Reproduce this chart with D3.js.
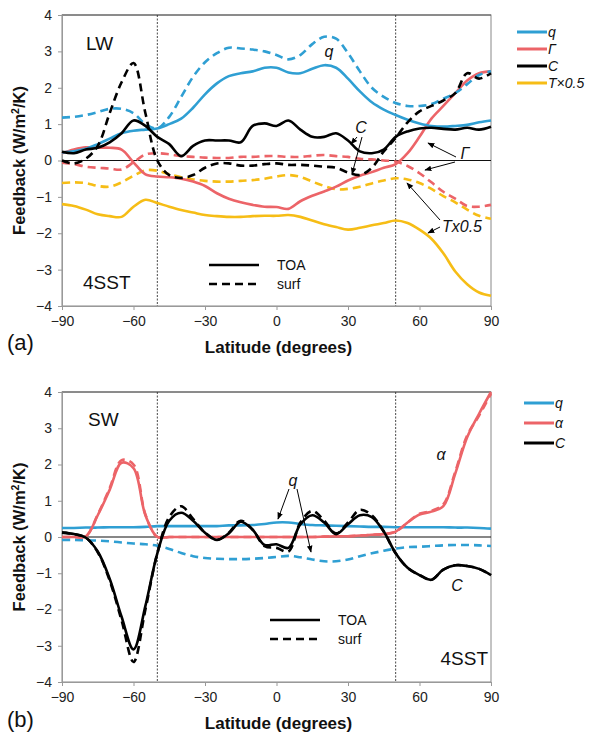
<!DOCTYPE html>
<html>
<head>
<meta charset="utf-8">
<script src="https://cdn.jsdelivr.net/npm/d3@7"></script>
<style>
  body { margin: 0; background: #fff; }
  svg { display: block; font-family: "Liberation Sans", Arial, sans-serif; }
  .tick text { font-size: 14px; fill: #222; }
  .ann { font-style: italic; font-size: 16px; fill: #111; }
</style>
</head>
<body>
<div id="chart"></div>
<script>
// latitude grid (deg), shared by both panels
const lat = [-90,-85,-80,-75,-70,-65,-60,-55,-50,-45,-40,-35,-30,-25,-20,-15,-10,-5,0,5,10,15,20,25,30,35,40,45,50,55,60,65,70,75,80,85,90];
const xTicks = [-90,-60,-30,0,30,60,90];
const yTicks = [-4,-3,-2,-1,0,1,2,3,4];

// (a) LW feedbacks, TOA (solid) and surface (dashed)
const lwQToa  = [0.22,0.25,0.32,0.45,0.6,0.75,0.82,0.85,0.88,1.0,1.15,1.45,1.82,2.12,2.32,2.4,2.45,2.55,2.55,2.42,2.4,2.52,2.62,2.55,2.25,1.9,1.6,1.4,1.25,1.12,1.02,0.95,0.93,0.95,0.98,1.05,1.1];
const lwQSurf = [1.18,1.2,1.25,1.33,1.42,1.42,1.3,1.0,0.88,1.2,1.75,2.3,2.7,2.95,3.1,3.08,3.05,3.0,2.9,2.78,2.9,3.2,3.4,3.35,2.95,2.45,2.0,1.75,1.58,1.5,1.5,1.55,1.7,1.85,2.1,2.35,2.45];
const lwGToa  = [0.2,0.3,0.36,0.35,0.35,0.3,-0.05,-0.38,-0.44,-0.46,-0.5,-0.58,-0.7,-0.9,-1.05,-1.15,-1.22,-1.27,-1.28,-1.33,-1.12,-0.97,-0.85,-0.72,-0.55,-0.42,-0.32,-0.2,-0.1,0.2,0.65,1.15,1.5,1.85,2.2,2.4,2.45];
const lwGSurf = [-0.06,-0.1,-0.17,-0.2,-0.22,-0.25,-0.05,0.17,0.2,0.17,0.12,0.1,0.08,0.07,0.07,0.1,0.1,0.12,0.12,0.1,0.1,0.13,0.15,0.12,0.1,0.05,0.03,0.0,-0.03,-0.15,-0.35,-0.6,-0.86,-1.05,-1.25,-1.27,-1.22];
const lwCToa  = [0.24,0.2,0.3,0.35,0.5,0.75,1.1,0.95,0.65,0.45,0.12,0.4,0.55,0.55,0.55,0.5,0.95,1.02,0.95,1.1,0.85,0.65,0.65,0.75,0.55,0.25,0.2,0.3,0.65,0.8,0.88,0.9,0.87,0.85,0.9,0.85,0.93];
const lwCSurf = [0.0,-0.08,0.05,0.4,1.3,2.15,2.68,1.3,0.0,-0.4,-0.48,-0.4,-0.2,-0.08,-0.08,-0.14,-0.14,-0.1,-0.08,-0.12,-0.12,-0.14,-0.17,-0.2,-0.33,-0.4,-0.2,0.25,0.62,1.05,1.35,1.5,1.65,1.85,2.4,2.25,2.4];
const lwTToa  = [-1.2,-1.25,-1.35,-1.48,-1.53,-1.55,-1.27,-1.08,-1.17,-1.27,-1.36,-1.43,-1.5,-1.53,-1.55,-1.55,-1.53,-1.52,-1.52,-1.5,-1.55,-1.65,-1.75,-1.83,-1.9,-1.85,-1.78,-1.72,-1.65,-1.72,-1.9,-2.15,-2.55,-3.05,-3.4,-3.63,-3.72];
const lwTSurf = [-0.62,-0.6,-0.62,-0.7,-0.72,-0.6,-0.42,-0.27,-0.28,-0.38,-0.46,-0.52,-0.56,-0.58,-0.58,-0.56,-0.54,-0.5,-0.44,-0.4,-0.45,-0.58,-0.7,-0.79,-0.78,-0.72,-0.63,-0.55,-0.49,-0.52,-0.62,-0.78,-0.98,-1.15,-1.35,-1.52,-1.6];

// (b) SW feedbacks
const swQToa  = [0.25,0.25,0.26,0.26,0.27,0.27,0.27,0.28,0.3,0.3,0.3,0.3,0.3,0.3,0.32,0.32,0.33,0.36,0.4,0.4,0.36,0.33,0.32,0.31,0.3,0.29,0.28,0.28,0.27,0.27,0.27,0.27,0.27,0.26,0.26,0.25,0.23];
const swQSurf = [-0.08,-0.08,-0.09,-0.1,-0.12,-0.15,-0.18,-0.2,-0.24,-0.33,-0.44,-0.53,-0.58,-0.6,-0.61,-0.61,-0.6,-0.58,-0.55,-0.52,-0.56,-0.62,-0.67,-0.67,-0.62,-0.53,-0.45,-0.38,-0.32,-0.28,-0.27,-0.25,-0.23,-0.22,-0.22,-0.23,-0.25];
const swAToa  = [0,0,0.02,0.6,1.3,2.05,1.9,0.6,0,0,0,0,0,0,0,0,0,0,0,0,0,0,0.01,0.02,0.02,0.04,0.06,0.08,0.15,0.4,0.62,0.7,0.85,1.75,2.75,3.4,4.0];
const swASurf = [0,0,0.02,0.62,1.35,2.12,2.0,0.62,0,0,0,0,0,0,0,0,0,0,0,0,0,0,0.01,0.02,0.02,0.04,0.06,0.08,0.15,0.4,0.64,0.72,0.9,1.8,2.8,3.35,3.95];
const swCToa  = [0.12,0.08,-0.02,-0.4,-1.15,-2.2,-3.1,-1.9,-0.45,0.45,0.67,0.45,0.12,-0.08,0.1,0.42,0.2,-0.22,-0.2,-0.3,0.35,0.6,0.4,0.08,0.35,0.6,0.55,0.15,-0.45,-0.85,-1.05,-1.18,-0.9,-0.78,-0.8,-0.88,-1.05];
const swCSurf = [0.12,0.08,-0.02,-0.42,-1.2,-2.3,-3.45,-2.0,-0.45,0.55,0.85,0.5,0.12,-0.08,0.12,0.45,0.2,-0.25,-0.3,-0.4,0.4,0.72,0.45,0.1,0.4,0.75,0.6,0.15,-0.45,-0.85,-1.05,-1.18,-0.9,-0.78,-0.8,-0.88,-1.05];

const COL = { q: "#2f9fd3", r: "#ec6468", k: "#000", y: "#f6bd16" };
const W = 590, H = 738;
const svg = d3.select("#chart").append("svg").attr("width", W).attr("height", H);

const defs = svg.append("defs");
defs.append("marker").attr("id", "arr").attr("viewBox", "0 0 10 10").attr("refX", 9).attr("refY", 5)
  .attr("markerWidth", 7).attr("markerHeight", 7).attr("orient", "auto")
  .append("path").attr("d", "M0,1 L10,5 L0,9 Z").attr("fill", "#000");

const x = d3.scaleLinear().domain([-90, 90]).range([62, 491]);

function panel(top, bottom, series) {
  const y = d3.scaleLinear().domain([-4, 4]).range([bottom, top]);
  const g = svg.append("g");

  g.append("rect").attr("x", x(-90)).attr("y", top).attr("width", x(90) - x(-90)).attr("height", bottom - top)
    .attr("fill", "none").attr("stroke", "#888").attr("stroke-width", 1);
  g.append("line").attr("x1", x(-90)).attr("x2", x(90)).attr("y1", top).attr("y2", top).attr("stroke", "#555");

  const ay = g.append("g").attr("transform", `translate(${x(-90)},0)`)
    .call(d3.axisLeft(y).tickValues(yTicks).tickSize(4).tickPadding(6));
  const ax = g.append("g").attr("transform", `translate(0,${bottom})`)
    .call(d3.axisBottom(x).tickValues(xTicks).tickSize(4).tickPadding(6));
  [ay, ax].forEach((a) => { a.selectAll("path,line").attr("stroke", "#999"); a.selectAll("text").attr("font-family", null).attr("font-size", null); });

  // zero line and ±50° guides
  g.append("line").attr("x1", x(-90)).attr("x2", x(90)).attr("y1", y(0)).attr("y2", y(0)).attr("stroke", "#111").attr("stroke-width", 1.2);
  [-50, 50].forEach((v) => g.append("line").attr("x1", x(v)).attr("x2", x(v)).attr("y1", top).attr("y2", bottom)
    .attr("stroke", "#333").attr("stroke-width", 0.9).attr("stroke-dasharray", "2,1.5"));

  const line = d3.line().x((d, i) => x(lat[i])).y((d) => y(d)).curve(d3.curveCatmullRom.alpha(0.5));
  series.forEach((s) => {
    g.append("path").datum(s.v).attr("d", line).attr("fill", "none").attr("stroke", s.c)
      .attr("stroke-width", 2.6).attr("stroke-dasharray", s.dash ? "8,5" : null).attr("stroke-linejoin", "round");
  });
  return { g, y };
}

// ---- (a) LW
const A = panel(15, 306, [
  { v: lwTSurf, c: COL.y, dash: true }, { v: lwTToa, c: COL.y },
  { v: lwGSurf, c: COL.r, dash: true }, { v: lwGToa, c: COL.r },
  { v: lwQSurf, c: COL.q, dash: true }, { v: lwQToa, c: COL.q },
  { v: lwCSurf, c: COL.k, dash: true }, { v: lwCToa, c: COL.k }
]);
// ---- (b) SW
const B = panel(392, 682, [
  { v: swQSurf, c: COL.q, dash: true }, { v: swQToa, c: COL.q },
  { v: swASurf, c: COL.r, dash: true }, { v: swAToa, c: COL.r },
  { v: swCSurf, c: COL.k, dash: true }, { v: swCToa, c: COL.k }
]);

// axis titles and panel tags
[[A, 306, "(a)", 350], [B, 682, "(b)", 727]].forEach(([P, bot, tag, ty]) => {
  svg.append("text").attr("x", (x(-90) + x(90)) / 2 + 2).attr("y", bot + 47).attr("text-anchor", "middle")
    .attr("font-size", 17).attr("font-weight", "bold").attr("fill", "#111").text("Latitude (degrees)");
  svg.append("text").attr("x", 7).attr("y", ty).attr("font-size", 22).attr("fill", "#111").text(tag);
  const cy = (P.y(4) + P.y(-4)) / 2;
  const t = svg.append("text").attr("transform", `translate(25,${cy}) rotate(-90)`).attr("text-anchor", "middle")
    .attr("font-size", 16.5).attr("font-weight", "bold").attr("fill", "#111");
  t.append("tspan").text("Feedback (W/m");
  t.append("tspan").attr("font-size", 10.5).attr("dy", -6).text("2");
  t.append("tspan").attr("dy", 6).text("/K)");
});

function big(txt, px, py, anchor) {
  svg.append("text").attr("x", px).attr("y", py).attr("font-size", 19).attr("fill", "#111")
    .attr("text-anchor", anchor || "start").text(txt);
}
big("LW", 86, 50); big("4SST", 83, 289);
big("SW", 88, 426); big("4SST", 488, 665, "end");

// colour legends
function legend(items, x0, y0, step) {
  items.forEach((it, i) => {
    const yy = y0 + i * step;
    svg.append("line").attr("x1", x0).attr("x2", x0 + 30).attr("y1", yy).attr("y2", yy).attr("stroke", it.c).attr("stroke-width", 3);
    svg.append("text").attr("x", x0 + 31).attr("y", yy + 5).attr("font-size", 14).attr("font-style", "italic").attr("fill", "#111").text(it.t);
  });
}
legend([{ t: "q", c: COL.q }, { t: "Γ", c: COL.r }, { t: "C", c: COL.k }, { t: "T×0.5", c: COL.y }], 517, 32, 17);
legend([{ t: "q", c: COL.q }, { t: "α", c: COL.r }, { t: "C", c: COL.k }], 524, 403, 20);

// TOA / surf key
function styleKey(x0, y0) {
  [["TOA", null], ["surf", "8,5"]].forEach(([t, d], i) => {
    const yy = y0 + i * 19;
    svg.append("line").attr("x1", x0).attr("x2", x0 + 50).attr("y1", yy).attr("y2", yy).attr("stroke", "#000")
      .attr("stroke-width", 2.6).attr("stroke-dasharray", d);
    svg.append("text").attr("x", x0 + 68).attr("y", yy + 5).attr("font-size", 14).attr("fill", "#111").text(t);
  });
}
styleKey(209, 265); styleKey(270, 620);

// annotations with arrows
function ann(t, px, py) { svg.append("text").attr("class", "ann").attr("x", px).attr("y", py).attr("text-anchor", "middle").text(t); }
function arrow(x1, y1, x2, y2) {
  svg.append("line").attr("x1", x1).attr("y1", y1).attr("x2", x2).attr("y2", y2).attr("stroke", "#000").attr("stroke-width", 1).attr("marker-end", "url(#arr)");
}
ann("q", 329, 57);
ann("C", 361, 133); arrow(357, 137, 351, 144); arrow(362, 137, 352, 174);
ann("Γ", 465, 159); arrow(456, 157, 428, 143); arrow(455, 162, 425, 170);
svg.append("text").attr("class", "ann").attr("x", 442).attr("y", 232).text("Tx0.5");
arrow(440, 220, 407, 183); arrow(440, 227, 428, 233);

ann("q", 293, 486); arrow(289, 489, 278, 519); arrow(297, 489, 311, 552);
ann("α", 441, 460); ann("C", 457, 591);
</script>
</body>
</html>
